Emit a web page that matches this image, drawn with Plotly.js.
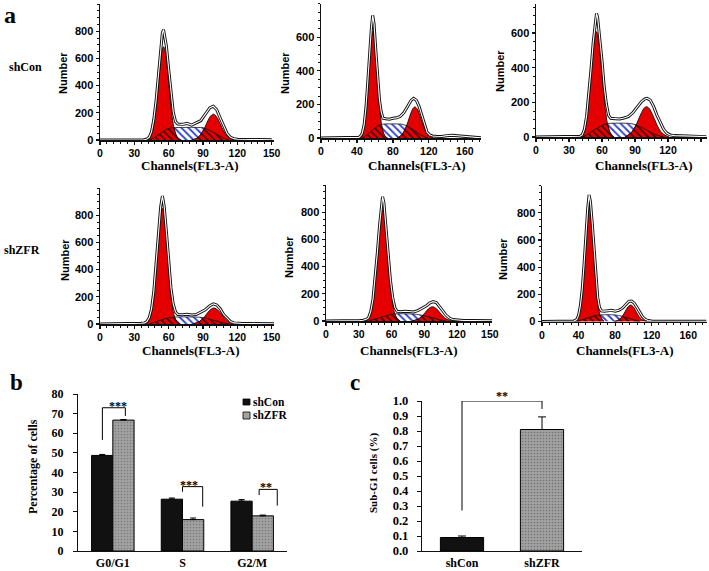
<!DOCTYPE html>
<html><head><meta charset="utf-8">
<script src="https://cdn.plot.ly/plotly-3.0.1.min.js"></script>
<style>html,body{margin:0;padding:0;background:#fff}#chart{width:709px;height:571px}</style>
</head><body><div id="chart"></div>
<script>
// ---------- Panel a : DNA histograms (channel, number) ----------
// shCon replicate 1
const p1DataX = [0, 38, 41, 43, 45, 47, 49, 51, 53, 54.5, 55.5, 56.5, 58, 60, 62, 64, 66, 68, 72, 76, 80, 84, 88, 92, 96, 99, 102, 105, 108, 111, 114, 117, 120, 125, 130, 140, 150];
const p1DataY = [0, 0, 8, 20, 60, 150, 290, 480, 660, 790, 810, 770, 690, 520, 340, 205, 135, 118, 115, 122, 110, 124, 142, 190, 238, 248, 222, 162, 98, 48, 20, 10, 6, 4, 3, 3, 2];
const p1G1X = [42, 44, 46, 48, 50, 52, 54, 55.5, 57, 59, 61, 63, 65, 67, 69, 71];
const p1G1Y = [0, 30, 74, 171, 325, 507, 649, 686, 649, 507, 325, 171, 74, 26, 7, 0];
const p1G2X = [80, 84, 87, 90, 93, 96, 99, 102, 105, 108, 111, 114, 117, 120];
const p1G2Y = [0, 10, 29, 66, 119, 169, 190, 169, 119, 66, 29, 10, 3, 0];
const p1SX = [43, 48, 53, 58, 62, 70, 80, 90, 95, 100, 105, 109, 113];
const p1SY = [0, 20, 50, 78, 90, 92, 93, 90, 75, 50, 25, 10, 0];
const p1OvLX = [43, 48, 53, 58, 62, 64.6, 65, 67, 69, 71];
const p1OvLY = [0, 20, 50, 78, 90, 91, 74, 26, 7, 0];
const p1OvRX = [80, 84, 87, 90, 91.3, 95, 100, 105, 109, 113];
const p1OvRY = [0, 10, 29, 66, 87, 75, 50, 25, 10, 0];

// shCon replicate 2
const p2DataX = [0, 40, 42, 44, 46, 48, 50, 52, 54, 56, 57.5, 59, 61, 63, 65, 67, 69, 72, 76, 80, 84, 88, 92, 96, 100, 103, 106, 109, 112, 115, 118, 121, 124, 128, 134, 140, 146, 152, 158, 164, 170, 178];
const p2DataY = [0, 0, 4, 12, 30, 80, 180, 330, 510, 650, 730, 680, 520, 360, 230, 155, 118, 115, 112, 118, 120, 128, 150, 185, 222, 236, 225, 190, 135, 75, 35, 18, 12, 10, 9, 14, 16, 13, 10, 4, 2, 1];
const p2G1X = [42, 44, 46, 48, 50, 52, 54, 56, 57.8, 59.5, 61.5, 63.5, 65.5, 67.5, 69.5, 71.5, 74];
const p2G1Y = [0, 9, 27, 73, 160, 297, 459, 591, 636, 596, 466, 305, 166, 76, 29, 9, 0];
const p2G2X = [85, 88, 91, 94, 97, 100, 102.5, 104.5, 107, 110, 113, 116, 119, 122, 125];
const p2G2Y = [0, 10, 26, 56, 101, 149, 177, 185, 173, 133, 85, 44, 19, 7, 0];
const p2SX = [45, 50, 55, 60, 64, 70, 80, 90, 96, 101, 106, 111, 115, 119];
const p2SY = [0, 15, 38, 62, 76, 83, 84, 82, 72, 55, 35, 18, 8, 0];
const p2OvLX = [45, 50, 55, 60, 64, 67.1, 68.3, 69.5, 71.5, 74];
const p2OvLY = [0, 15, 38, 62, 76, 80, 52, 29, 9, 0];
const p2OvRX = [85, 88, 91, 94, 95.2, 101, 106, 111, 115, 119];
const p2OvRY = [0, 10, 26, 56, 73, 55, 35, 18, 8, 0];

// shCon replicate 3
const p3DataX = [0, 38, 40, 42, 44, 46, 48, 50, 52, 54, 55, 56, 58, 60, 62, 64, 66, 68, 72, 76, 80, 84, 88, 92, 96, 99, 101, 104, 107, 110, 113, 116, 119, 122, 126, 132, 140, 150, 155];
const p3DataY = [0, 0, 4, 12, 45, 120, 240, 390, 545, 670, 714, 690, 580, 440, 290, 190, 125, 108, 106, 104, 110, 118, 140, 170, 205, 220, 223, 212, 175, 125, 80, 45, 22, 12, 8, 6, 5, 3, 2];
const p3G1X = [39, 41, 43, 45, 47, 49, 51, 53, 55, 57, 59, 61, 63, 65, 67, 69, 71];
const p3G1Y = [0, 10, 30, 76, 160, 287, 436, 559, 608, 559, 436, 287, 160, 76, 30, 10, 0];
const p3G2X = [81, 84, 87, 90, 93, 96, 98.5, 100.5, 103, 106, 109, 112, 115, 118, 121];
const p3G2Y = [0, 11, 27, 57, 99, 142, 168, 175, 164, 128, 84, 45, 21, 8, 0];
const p3SX = [42, 47, 52, 57, 61, 66, 76, 86, 92, 97, 102, 107, 112, 116];
const p3SY = [0, 15, 38, 58, 70, 78, 80, 78, 68, 52, 34, 18, 7, 0];
const p3OvLX = [42, 47, 52, 57, 61, 65, 66, 67, 69, 71];
const p3OvLY = [0, 15, 38, 58, 70, 77, 50, 30, 10, 0];
const p3OvRX = [81, 84, 87, 90, 91, 97, 102, 107, 112, 116];
const p3OvRY = [0, 11, 27, 57, 70, 52, 34, 18, 7, 0];

// shZFR replicate 1
const p4DataX = [0, 28, 32, 36, 39, 41, 43, 45, 47, 49, 51, 53, 54.5, 56, 58, 60, 62, 64, 66, 68, 72, 76, 80, 84, 88, 92, 96, 99, 102, 105, 108, 111, 114, 117, 120, 125, 132, 142, 152];
const p4DataY = [0, 0, 3, 5, 8, 18, 45, 110, 240, 440, 670, 860, 941, 870, 680, 450, 265, 145, 88, 70, 68, 72, 66, 70, 85, 105, 135, 148, 140, 112, 70, 40, 18, 8, 5, 4, 3, 2, 1];
const p4G1X = [39, 41, 43, 45, 47, 49, 51, 53, 54.5, 56, 58, 60, 62, 64, 66, 68, 70];
const p4G1Y = [0, 9, 32, 92, 212, 403, 628, 804, 850, 804, 628, 403, 212, 92, 32, 9, 0];
const p4G2X = [81, 84, 87, 90, 93, 96, 99.5, 103, 106, 109, 112, 115, 118];
const p4G2Y = [0, 7, 19, 41, 72, 102, 118, 102, 72, 41, 19, 7, 0];
const p4SX = [43, 48, 53, 58, 62, 68, 78, 88, 93, 98, 103, 108, 113];
const p4SY = [0, 12, 28, 42, 49, 52, 52, 49, 42, 30, 17, 7, 0];
const p4OvLX = [43, 48, 53, 58, 62, 65.2, 66, 68, 70];
const p4OvLY = [0, 12, 28, 42, 49, 51, 32, 9, 0];
const p4OvRX = [81, 84, 87, 90, 90.6, 93, 98, 103, 108, 113];
const p4OvRY = [0, 7, 19, 41, 47, 42, 30, 17, 7, 0];

// shZFR replicate 2
const p5DataX = [0, 28, 31, 34, 37, 39, 41, 43, 45, 47, 49, 50.5, 51.8, 53, 55, 57, 59, 61, 63, 65, 68, 72, 76, 80, 84, 88, 92, 95, 98, 101, 104, 107, 110, 113, 116, 120, 126, 135, 145, 152];
const p5DataY = [0, 0, 3, 6, 12, 25, 70, 160, 310, 500, 700, 850, 914, 870, 700, 490, 300, 175, 100, 72, 68, 72, 70, 66, 76, 92, 112, 132, 142, 136, 108, 74, 42, 22, 11, 6, 4, 3, 2, 1];
const p5G1X = [36, 38, 40, 42, 44, 46, 48, 50, 51.8, 53.6, 55.6, 57.6, 59.6, 61.6, 63.6, 65.6, 68];
const p5G1Y = [0, 13, 39, 101, 218, 393, 597, 761, 816, 761, 597, 393, 218, 101, 39, 13, 0];
const p5G2X = [79, 82, 85, 88, 91, 94, 97.5, 101, 104, 107, 110, 113, 116];
const p5G2Y = [0, 6, 16, 36, 64, 91, 105, 91, 64, 36, 16, 6, 0];
const p5SX = [39, 44, 49, 54, 59, 64, 72, 80, 86, 91, 96, 101, 106, 110];
const p5SY = [0, 12, 26, 39, 48, 53, 53, 51, 45, 37, 25, 13, 5, 0];
const p5OvLX = [39, 44, 49, 54, 59, 61.6, 63, 63.6, 65.6, 68];
const p5OvLY = [0, 12, 26, 39, 48, 51, 53, 39, 13, 0];
const p5OvRX = [79, 82, 85, 88, 88.6, 91, 96, 101, 106, 110];
const p5OvRY = [0, 6, 16, 36, 41, 37, 25, 13, 5, 0];

// shZFR replicate 3
const p6DataX = [0, 32, 35, 38, 40, 42, 44, 46, 48, 50, 51.5, 53, 55, 57, 59, 61, 63, 65, 68, 72, 76, 80, 84, 88, 92, 95, 98, 101, 104, 107, 110, 113, 116, 120, 128, 140, 150, 160, 170, 180];
const p6DataY = [0, 0, 4, 14, 45, 115, 235, 420, 640, 830, 930, 880, 720, 510, 320, 175, 100, 78, 76, 80, 82, 76, 82, 98, 128, 148, 151, 135, 102, 65, 35, 16, 7, 4, 3, 2, 3, 2, 1, 1];
const p6G1X = [36, 38, 40, 42, 44, 46, 48, 50, 52, 54, 56, 58, 60, 62, 64, 66, 68];
const p6G1Y = [0, 12, 37, 96, 209, 384, 593, 770, 840, 770, 593, 384, 209, 96, 37, 12, 0];
const p6G2X = [79, 82, 85, 88, 91, 94, 97, 100, 103, 106, 109, 112, 115];
const p6G2Y = [0, 5, 16, 39, 73, 107, 121, 107, 73, 39, 16, 5, 0];
const p6SX = [38, 43, 48, 53, 58, 63, 70, 78, 84, 89, 94, 99, 103, 107];
const p6SY = [0, 12, 25, 36, 44, 48, 50, 49, 44, 36, 25, 13, 5, 0];
const p6OvLX = [38, 43, 48, 53, 58, 63.4, 64, 66, 68];
const p6OvLY = [0, 12, 25, 36, 44, 48, 37, 12, 0];
const p6OvRX = [79, 82, 85, 87.9, 89, 94, 99, 103, 107];
const p6OvRY = [0, 5, 16, 38, 36, 25, 13, 5, 0];

// tick labels
const chTicks30 = [0, 30, 60, 90, 120, 150];
const chTicks40 = [0, 40, 80, 120, 160];
const cntTicks800 = [0, 200, 400, 600, 800];
const cntTicks600 = [0, 200, 400, 600];

// ---------- Panel b ----------
const phases = ['G0/G1', 'S', 'G2/M'];
const shConPct = [48.7, 26.4, 25.4];
const shZFRPct = [66.7, 16.0, 17.9];
const shConErr = [0.5, 0.6, 0.8];
const shZFRErr = [0.3, 0.8, 0.4];

// ---------- Panel c ----------
const groups = ['shCon', 'shZFR'];
const subG1 = [0.09, 0.81];
const subG1Err = [0.01, 0.084];

// ================= drawing =================
const W = 709, H = 571;
const px = x => x / W;
const py = y => 1 - y / H;
const RED = '#e40000', BLUE = '#2a3ed2', INK = '#000';
const serifB = s => ({family: '"Times New Roman", "Liberation Serif", serif', size: s, color: INK, weight: 'bold'});
const sansB = s => ({family: 'Arial, "Liberation Sans", sans-serif', size: s, color: INK, weight: 'bold'});

const traces = [];
function hist(n, d) {
  const xa = n === 1 ? 'x' : 'x' + n, ya = n === 1 ? 'y' : 'y' + n;
  const base = {xaxis: xa, yaxis: ya, mode: 'lines', hoverinfo: 'skip', showlegend: false};
  traces.push(Object.assign({}, base, {x: d.sx, y: d.sy, fill: 'tozeroy', fillcolor: 'white',
    fillpattern: {shape: '\\', fgcolor: BLUE, bgcolor: 'white', size: 5, solidity: 0.35},
    line: {color: '#111', width: 0.8, shape: 'spline', smoothing: 0.6}}));
  traces.push(Object.assign({}, base, {x: d.g1x, y: d.g1y, fill: 'tozeroy', fillcolor: RED,
    line: {color: '#111', width: 0.9, shape: 'spline'}}));
  traces.push(Object.assign({}, base, {x: d.g2x, y: d.g2y, fill: 'tozeroy', fillcolor: RED,
    line: {color: '#111', width: 0.9, shape: 'spline'}}));
  [[d.lx, d.ly], [d.rx, d.ry]].forEach(([x, y]) => traces.push(Object.assign({}, base, {x, y, fill: 'tozeroy', fillcolor: RED,
    fillpattern: {shape: '\\', fgcolor: '#3a0000', bgcolor: RED, size: 5, solidity: 0.3},
    line: {color: '#111', width: 0.8}})));
  traces.push(Object.assign({}, base, {x: d.dx, y: d.dy, line: {color: '#111', width: 3}}));
  traces.push(Object.assign({}, base, {x: d.dx, y: d.dy, line: {color: 'white', width: 1.1}}));
}
hist(1, {dx: p1DataX, dy: p1DataY, g1x: p1G1X, g1y: p1G1Y, g2x: p1G2X, g2y: p1G2Y, sx: p1SX, sy: p1SY, lx: p1OvLX, ly: p1OvLY, rx: p1OvRX, ry: p1OvRY});
hist(2, {dx: p2DataX, dy: p2DataY, g1x: p2G1X, g1y: p2G1Y, g2x: p2G2X, g2y: p2G2Y, sx: p2SX, sy: p2SY, lx: p2OvLX, ly: p2OvLY, rx: p2OvRX, ry: p2OvRY});
hist(3, {dx: p3DataX, dy: p3DataY, g1x: p3G1X, g1y: p3G1Y, g2x: p3G2X, g2y: p3G2Y, sx: p3SX, sy: p3SY, lx: p3OvLX, ly: p3OvLY, rx: p3OvRX, ry: p3OvRY});
hist(4, {dx: p4DataX, dy: p4DataY, g1x: p4G1X, g1y: p4G1Y, g2x: p4G2X, g2y: p4G2Y, sx: p4SX, sy: p4SY, lx: p4OvLX, ly: p4OvLY, rx: p4OvRX, ry: p4OvRY});
hist(5, {dx: p5DataX, dy: p5DataY, g1x: p5G1X, g1y: p5G1Y, g2x: p5G2X, g2y: p5G2Y, sx: p5SX, sy: p5SY, lx: p5OvLX, ly: p5OvLY, rx: p5OvRX, ry: p5OvRY});
hist(6, {dx: p6DataX, dy: p6DataY, g1x: p6G1X, g1y: p6G1Y, g2x: p6G2X, g2y: p6G2Y, sx: p6SX, sy: p6SY, lx: p6OvLX, ly: p6OvLY, rx: p6OvRX, ry: p6OvRY});

// panel b bars
const gray = '#a2a2a2';
const stipple = {shape: '.', fillmode: 'overlay', fgcolor: '#555', size: 3, solidity: 0.25};
traces.push({type: 'bar', name: 'shCon', x: phases, y: shConPct, xaxis: 'x7', yaxis: 'y7',
  marker: {color: '#111', line: {color: '#000', width: 1}},
  error_y: {type: 'data', array: shConErr, arrayminus: shConErr.map(() => 0), color: '#000', thickness: 1, width: 3},
  hoverinfo: 'skip', showlegend: false});
traces.push({type: 'bar', name: 'shZFR', x: phases, y: shZFRPct, xaxis: 'x7', yaxis: 'y7',
  marker: {color: gray, pattern: stipple, line: {color: '#000', width: 1}},
  error_y: {type: 'data', array: shZFRErr, arrayminus: shZFRErr.map(() => 0), color: '#000', thickness: 1, width: 3},
  hoverinfo: 'skip', showlegend: false});
// panel c bars
traces.push({type: 'bar', x: groups, y: subG1, xaxis: 'x8', yaxis: 'y8', width: 0.54,
  marker: {color: ['#111', gray], pattern: {shape: ['', '.'], fillmode: 'overlay', fgcolor: '#555', size: 3, solidity: 0.25}, line: {color: '#000', width: 1}},
  error_y: {type: 'data', array: subG1Err, arrayminus: subG1Err.map(() => 0), color: '#000', thickness: 1, width: 4},
  hoverinfo: 'skip', showlegend: false});

const layout = {
  width: W, height: H, margin: {l: 0, r: 0, t: 0, b: 0},
  paper_bgcolor: 'white', plot_bgcolor: 'rgba(0,0,0,0)', showlegend: false,
  barmode: 'group', bargap: 0.39, bargroupgap: 0,
  annotations: [], shapes: []
};

function histAxes(n, xd, yd, xr, yr, xt, yt, xm) {
  const xk = n === 1 ? 'xaxis' : 'xaxis' + n, yk = n === 1 ? 'yaxis' : 'yaxis' + n;
  const xa = n === 1 ? 'x' : 'x' + n, ya = n === 1 ? 'y' : 'y' + n;
  const common = {showline: true, linecolor: '#111', linewidth: 1.5, showgrid: false, zeroline: false,
    ticks: 'outside', tickwidth: 1.2, tickcolor: '#111', fixedrange: true};
  layout[xk] = Object.assign({}, common, {domain: [px(xd[0]), px(xd[1])], anchor: ya, range: xr, tickmode: 'array', tickvals: xt,
    ticklen: 3, tickfont: sansB(10.5),
    minor: {tickmode: 'linear', tick0: 0, dtick: xm, ticks: 'outside', ticklen: 2, tickcolor: '#111', tickwidth: 1, showgrid: false}});
  layout[yk] = Object.assign({}, common, {domain: [py(yd[0]), py(yd[1])], anchor: xa, range: yr, tickmode: 'array', tickvals: yt,
    ticklen: 3, tickfont: sansB(11),
    minor: {tickmode: 'linear', tick0: 0, dtick: 50, ticks: 'outside', ticklen: 2, tickcolor: '#111', tickwidth: 1, showgrid: false}});
}
histAxes(1, [100, 274], [140, 4], [0, 152], [0, 1000], chTicks30, cntTicks800, 6);
histAxes(2, [321, 481], [138, 3.6], [0, 178], [0, 800], chTicks40, cntTicks600, 8);
histAxes(3, [536, 706.5], [137, 3.6], [0, 155], [0, 770], chTicks30, cntTicks600, 6);
histAxes(4, [100, 274], [324, 188], [0, 152], [0, 1000], chTicks30, cntTicks800, 6);
histAxes(5, [326, 492], [321, 185], [0, 152], [0, 1000], chTicks30, cntTicks800, 6);
histAxes(6, [542, 706.5], [321.5, 185.5], [0, 180], [0, 1000], chTicks40, cntTicks800, 8);

layout.xaxis7 = {domain: [px(78), px(287)], anchor: 'y7', type: 'category', range: [-0.5, 2.5], showline: true, linecolor: '#111', linewidth: 1.2,
  ticks: '', showgrid: false, zeroline: false, tickfont: serifB(12), fixedrange: true};
layout.yaxis7 = {domain: [py(551), py(394)], anchor: 'x7', range: [0, 80], dtick: 10, showline: true, linecolor: '#111', linewidth: 1.2,
  ticks: 'outside', ticklen: 4, tickcolor: '#111', showgrid: false, zeroline: false, tickfont: serifB(12), ticklabelstandoff: 7, fixedrange: true};
layout.xaxis8 = {domain: [px(422), px(582)], anchor: 'y8', type: 'category', range: [-0.5, 1.5], showline: true, linecolor: '#111', linewidth: 1.2,
  ticks: '', showgrid: false, zeroline: false, tickfont: serifB(12), fixedrange: true};
layout.yaxis8 = {domain: [py(551), py(401)], anchor: 'x8', range: [0, 1.0], dtick: 0.1, tickformat: '.1f', showline: true, linecolor: '#111', linewidth: 1.2,
  ticks: 'outside', ticklen: 4, tickcolor: '#111', showgrid: false, zeroline: false, tickfont: serifB(12.5), ticklabelstandoff: 6, fixedrange: true};

function ann(text, x, y, font, extra) {
  layout.annotations.push(Object.assign({text, x: px(x), y: py(y), xref: 'paper', yref: 'paper', showarrow: false,
    xanchor: 'center', yanchor: 'middle', font}, extra || {}));
}
ann('a', 10, 15, serifB(24));
ann('b', 16, 382, serifB(23));
ann('c', 355, 382, serifB(23));
ann('shCon', 25, 67, serifB(12));
ann('shZFR', 22, 250, serifB(12));
[[63, 73], [285, 73], [500, 71], [65, 260], [289, 257], [503, 259]].forEach(([x, y]) => ann('Number', x, y, sansB(11), {textangle: -90}));
[[190, 165], [417, 165], [644, 165], [191, 350], [409, 350], [625, 350]].forEach(([x, y]) => ann('Channels(FL3-A)', x, y, serifB(13)));
ann('Percentage of cells', 33, 467, serifB(12), {textangle: -90});
ann('Sub-G1 cells (%)', 373, 473, serifB(11), {textangle: -90});
ann('shCon', 251, 402, serifB(11.5), {xanchor: 'left'});
ann('shZFR', 251, 415, serifB(11.5), {xanchor: 'left'});
ann('***', 118, 406, serifB(12));
ann('***', 189, 485, serifB(12));
ann('**', 266, 487, serifB(12));
ann('**', 502, 396, serifB(12));

// legend swatches
layout.shapes.push({type: 'rect', xref: 'paper', yref: 'paper', x0: px(243), x1: px(250), y0: py(405), y1: py(399), fillcolor: '#111', line: {color: '#000', width: 0.8}});
layout.shapes.push({type: 'rect', xref: 'paper', yref: 'paper', x0: px(243), x1: px(250), y0: py(419), y1: py(412), fillcolor: gray, line: {color: '#000', width: 0.8}});

// significance brackets [x0, x1, yTop, yLeftEnd, yRightEnd]
function bracket(xr, yr, b) {
  const [x0, x1, yt, yl, yrr] = b;
  const st = {type: 'line', xref: xr, yref: yr, line: {color: '#000', width: 1}};
  layout.shapes.push(Object.assign({}, st, {x0: x0, x1: x0, y0: yl, y1: yt}));
  layout.shapes.push(Object.assign({}, st, {x0: x0, x1: x1, y0: yt, y1: yt}));
  layout.shapes.push(Object.assign({}, st, {x0: x1, x1: x1, y0: yt, y1: yrr}));
}
bracket('x7', 'y7', [-0.15, 0.18, 73, 56.6, 68.8]);
bracket('x7', 'y7', [1.0, 1.29, 32.8, 30.2, 22.6]);
bracket('x7', 'y7', [2.10, 2.36, 31.4, 28.5, 23.1]);
bracket('x8', 'y8', [0, 1, 1.0, 0.27, 0.947]);

Plotly.newPlot('chart', traces, layout, {staticPlot: true, displayModeBar: false});
</script>
</body></html>
